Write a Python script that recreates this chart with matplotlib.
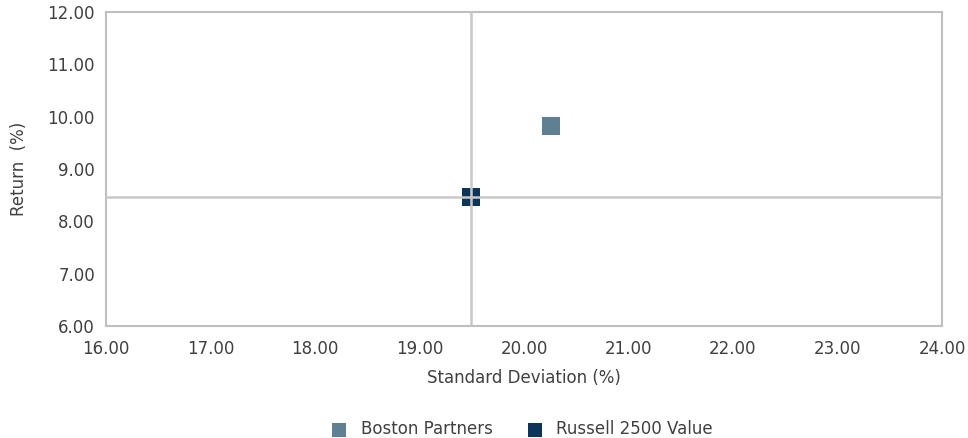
import matplotlib
matplotlib.use('Agg')
import matplotlib.pyplot as plt

# risk / return points
names = ['Boston Partners', 'Russell 2500 Value']
std_dev = [20.26, 19.49]
returns = [9.83, 8.47]
colors = ['#5f7f93', '#0c3559']

plt.rcParams['font.family'] = ['DejaVu Sans']
txt = '#404040'
grid = '#c8c8c8'

fig = plt.figure(figsize=(9.68, 4.38), dpi=100)
ax = fig.add_axes([106/968, 1-326/438, 836/968, 314/438])

for n, x, y, c in zip(names, std_dev, returns, colors):
    ax.scatter(x, y, marker='s', s=150, color=c, label=n, zorder=2, linewidths=0)

# crosshair through the benchmark
ax.axvline(std_dev[1], color=grid, lw=1.8, zorder=3)
ax.axhline(returns[1], color=grid, lw=1.8, zorder=3)

ax.set_xlim(16, 24)
ax.set_ylim(6, 12)
ax.set_xticks(range(16, 25))
ax.set_yticks(range(6, 13))
ax.xaxis.set_major_formatter(lambda v, p: f'{v:.2f}')
ax.yaxis.set_major_formatter(lambda v, p: f'{v:.2f}')
ax.tick_params(axis='x', length=0, labelsize=12, colors=txt, pad=10)
ax.tick_params(axis='y', length=0, labelsize=12, colors=txt, pad=8)
for s in ax.spines.values():
    s.set_color('#bfbfbf')
    s.set_linewidth(1.5)

ax.set_xlabel('Standard Deviation (%)', fontsize=12, color=txt, labelpad=8)
ax.set_ylabel('Return  (%)', fontsize=12, color=txt, labelpad=14)

fig.legend(*ax.get_legend_handles_labels(), loc='center', bbox_to_anchor=(0.535, 1-429/438),
           ncol=2, frameon=False, fontsize=12, labelcolor=txt, handletextpad=0.3,
           columnspacing=1.5, markerscale=0.85)

fig.savefig('out.png', dpi=100)
